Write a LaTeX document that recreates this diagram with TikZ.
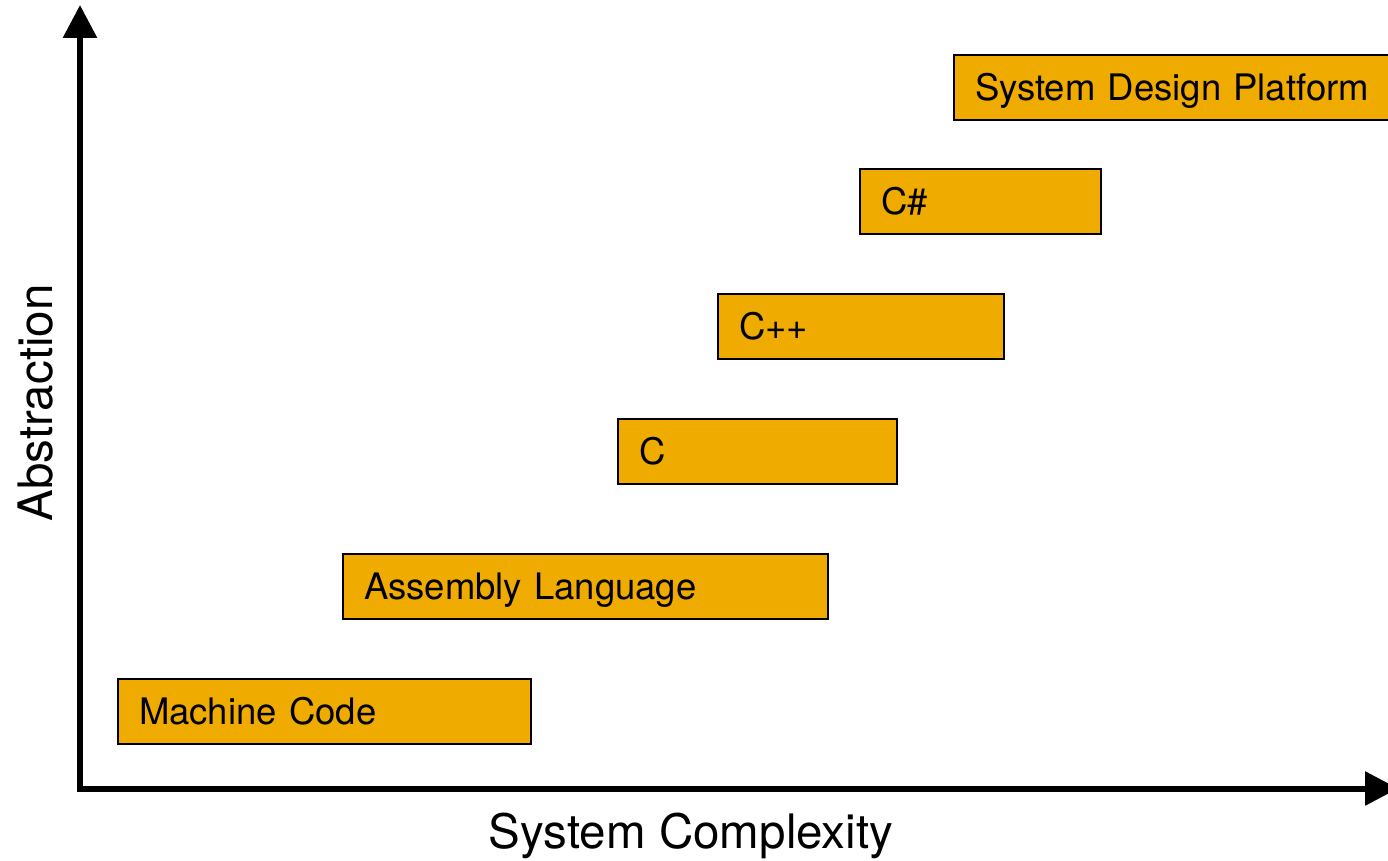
\documentclass[tikz,border=0pt]{standalone}
\usepackage{fontspec}
\setmainfont{TeX Gyre Heros}
\usetikzlibrary{arrows.meta}
\definecolor{boxorange}{HTML}{F0AB00}
\begin{document}
\begin{tikzpicture}[x=1pt,y=-1pt,
  langbox/.style={draw=black, line width=2pt, fill=boxorange, anchor=north west,
    minimum height=65pt, inner xsep=21pt, inner ysep=0pt, text height=26pt, text depth=0pt,
    align=left, font=\fontsize{36.5}{44}\selectfont},
  axisline/.style={line width=6pt, black, {Triangle[length=33pt,width=33pt]}-{Triangle[length=33pt,width=33pt]}},
  axislabel/.style={font=\fontsize{47.5}{56}\selectfont, inner sep=0pt, anchor=base}]
\useasboundingbox (0,0) rectangle (1388,861);
\fill[white] (0,0) rectangle (1388,861);

\coordinate (O) at (80,788.5);
\coordinate (ytip) at (80,5);
\coordinate (xtip) at (1398,788.5);
\draw[axisline] (ytip) -- (O) -- (xtip);

\node[langbox, text width=371pt] (mc) at (117,678) {Machine Code};
\node[langbox, text width=443pt] (asm) at (342,553) {Assembly Language};
\node[langbox, text width=237pt] (c) at (617,418) {C};
\node[langbox, text width=244pt] (cpp) at (717,293) {C++};
\node[langbox, text width=199pt] (cs) at (859,168) {C\#};
\node[langbox, text width=420pt] (sdp) at (953,54) {System Design Platform};

\node[axislabel] (xl) at (691,848) {System Complexity};
\node[axislabel, rotate=90] (yl) at (52,403) {Abstraction};
\end{tikzpicture}
\end{document}
